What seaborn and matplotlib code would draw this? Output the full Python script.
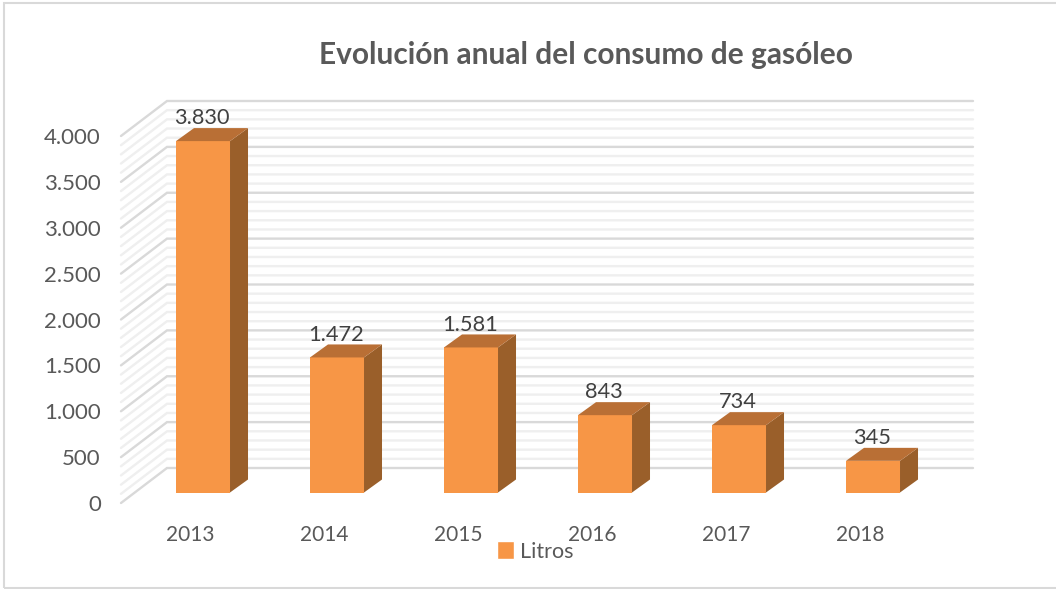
import pandas as pd
import matplotlib
matplotlib.use("Agg")
import matplotlib.pyplot as plt
import seaborn as sns
from matplotlib.patches import Patch, Polygon, Rectangle

# Data
years = ["2013", "2014", "2015", "2016", "2017", "2018"]
litros = [3830, 1472, 1581, 843, 734, 345]
value_labels = ["3.830", "1.472", "1.581", "843", "734", "345"]
major_ticks = [0, 500, 1000, 1500, 2000, 2500, 3000, 3500, 4000]
major_labels = ["0", "500", "1.000", "1.500", "2.000", "2.500", "3.000", "3.500", "4.000"]
minor_ticks = [v for v in range(0, 4001, 100) if v % 500 != 0]

df = pd.DataFrame({"Year": years, "Litros": litros})

W, H = 1056, 589
FRONT = "#F79646"
TOP = "#B96F35"
SIDE = "#9A5F2A"
TEXT = "#595959"
FONT = "Lato"

sns.set_theme(style="white")
plt.rcParams["font.family"] = [FONT, "DejaVu Sans"]

fig = plt.figure(figsize=(W / 100, H / 100), dpi=100)

# frame around the chart, right edge runs off the picture
fig.add_artist(Rectangle((3.5 / W, 1.5 / H), (W + 10) / W, (H - 4.5) / H, transform=fig.transFigure,
                         fill=False, edgecolor="#D9D9D9", linewidth=1.5))

# pixel layout: px per category and px per litre
px_cat = 134.0
px_val = 367.0 / 4000
x0 = -0.515
x1 = 5.5
wall_left = 121
wall_base = 503
ax_w = (x1 - x0) * px_cat
ax_h = 367.0


def axes_rect(left, base):
    return [left / W, (H - base) / H, ax_w / W, ax_h / H]


# walls and axis labels sit in the front plane, bars a bit deeper
wall = fig.add_axes(axes_rect(wall_left, wall_base))
ax = fig.add_axes(axes_rect(wall_left + 13, wall_base - 10.5))
for a in (wall, ax):
    a.set_xlim(x0, x1)
    a.set_ylim(0, 4000)
    a.patch.set_alpha(0)
    sns.despine(ax=a, left=True, bottom=True)

# wall gridlines
wall_dx = 46 / px_cat
wall_dy = 35 / px_val
for v, color in [(m, "#EFEFEF") for m in minor_ticks] + [(m, "#D9D9D9") for m in major_ticks]:
    wall.plot([x0, x0 + wall_dx, x1 + wall_dx], [v, v + wall_dy, v + wall_dy],
              color=color, lw=1.7, clip_on=False, solid_joinstyle="miter")

wall.set_yticks(major_ticks)
wall.set_yticklabels(major_labels, fontsize=16, color=TEXT)
wall.set_xticks(range(len(years)))
wall.set_xticklabels(years, fontsize=15, color=TEXT)
wall.tick_params(axis="y", length=0, pad=14.5)
wall.tick_params(axis="x", length=0, pad=15.8)

# bars
sns.barplot(data=df, x="Year", y="Litros", color=FRONT, saturation=1, width=54 / px_cat,
            ax=ax, zorder=3, linewidth=0)
ax.set_xlim(x0, x1)
ax.set_ylim(0, 4000)
ax.set_xlabel("")
ax.set_ylabel("")
ax.set_xticks([])
ax.set_yticks([])

bar_dx = 18 / px_cat
bar_dy = 13 / px_val
for bar, text in zip(ax.patches, value_labels):
    left = bar.get_x()
    right = left + bar.get_width()
    top = bar.get_height()
    ax.add_patch(Polygon([(right, 0), (right + bar_dx, bar_dy), (right + bar_dx, top + bar_dy), (right, top)],
                         facecolor=SIDE, edgecolor="none", zorder=3, clip_on=False))
    ax.add_patch(Polygon([(left, top), (left + bar_dx, top + bar_dy), (right + bar_dx, top + bar_dy), (right, top)],
                         facecolor=TOP, edgecolor="none", zorder=3, clip_on=False))
    ax.annotate(text, (left + bar.get_width() / 2, top), xytext=(-0.7, 16.5), textcoords="offset points",
                ha="center", va="center", fontsize=15.7, color="#404040", zorder=5, annotation_clip=False)

fig.text(586 / W, 1 - 55 / H, "Evolución anual del consumo de gasóleo", ha="center", va="center",
         fontsize=21.5, fontweight="bold", color=TEXT)

fig.legend(handles=[Patch(facecolor=FRONT, label="Litros")], loc="center", bbox_to_anchor=(535.5 / W, 1 - 551.5 / H),
           frameon=False, fontsize=15.5, handlelength=0.75, handleheight=0.9, handletextpad=0.3,
           labelcolor=TEXT, borderpad=0)

fig.savefig("out.png", dpi=100)
